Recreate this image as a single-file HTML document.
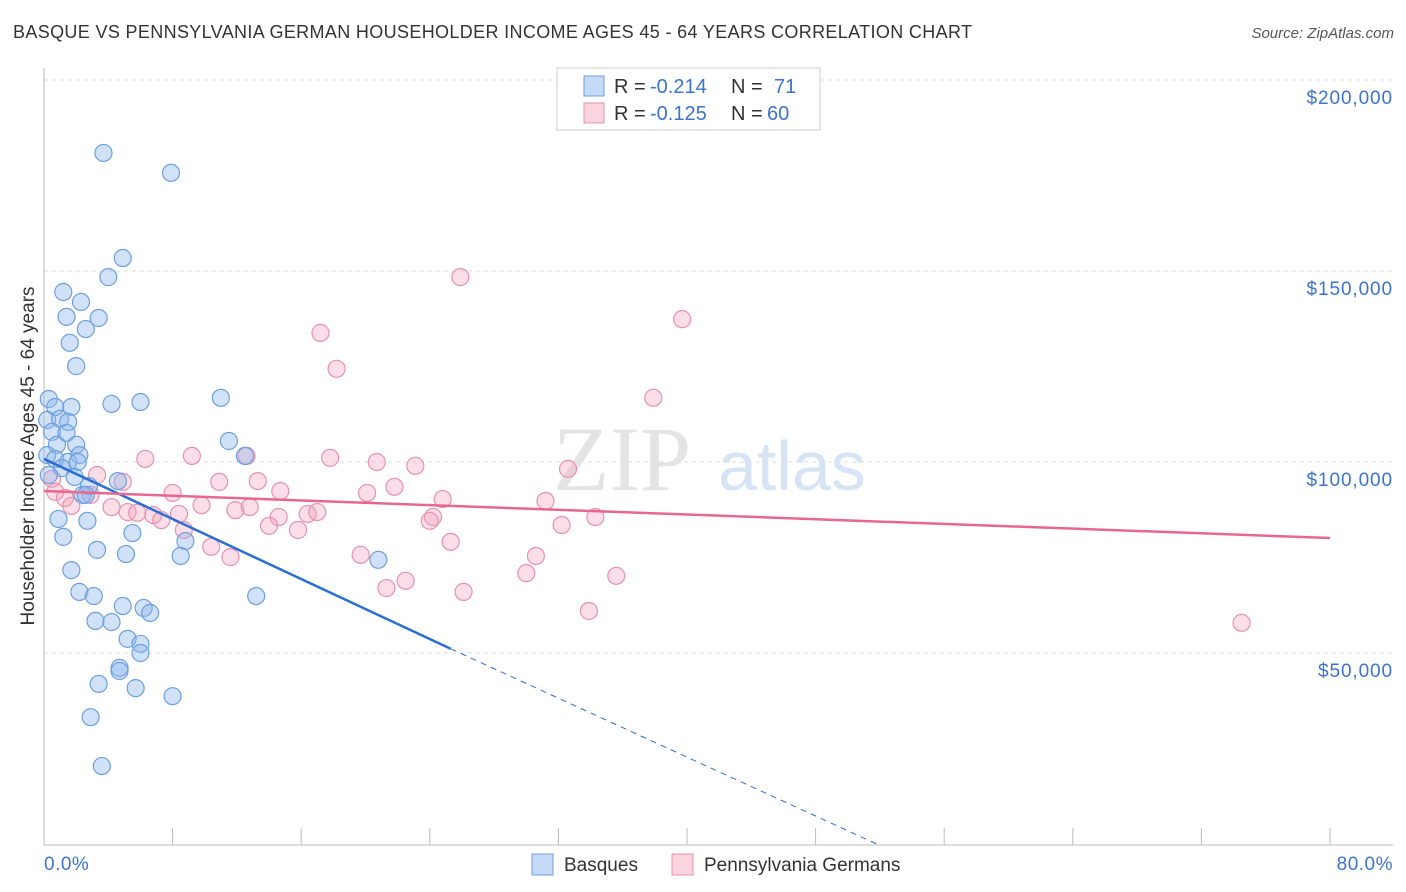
<!DOCTYPE html>
<html><head><meta charset="utf-8">
<style>
body{margin:0;background:#fff;font-family:"Liberation Sans",sans-serif;}
.t{position:absolute;white-space:nowrap}
</style></head>
<body>
<div style="position:relative;width:1406px;height:892px;overflow:hidden">
<div class="t" style="left:13px;top:22px;font-size:18px;color:#333;letter-spacing:0.35px">BASQUE VS PENNSYLVANIA GERMAN HOUSEHOLDER INCOME AGES 45 - 64 YEARS CORRELATION CHART</div>
<div class="t" style="right:12px;top:25px;font-size:15px;color:#555;font-style:italic">Source: ZipAtlas.com</div>
<svg id="chart" width="1406" height="892" style="position:absolute;left:0;top:0"></svg>
</div>
<script>
const blueX=[3.7,7.9,4.9,4.0,1.2,2.3,1.4,3.4,2.6,1.6,2.0,0.3,4.2,6.0,11.0,0.7,1.7,0.2,1.0,1.5,0.5,1.4,11.5,0.8,2.0,0.2,2.2,12.5,0.7,1.5,2.1,1.1,1.9,4.6,2.8,2.4,0.9,2.7,5.5,1.2,8.8,3.3,5.1,8.5,20.8,1.7,2.2,3.1,13.2,4.9,6.2,6.6,3.2,4.2,5.2,6.0,6.0,4.7,4.7,3.4,5.7,8.0,2.9,3.6,0.3,2.6];
const blueY=[180.9,175.7,153.4,148.4,144.5,141.9,138.0,137.7,134.8,131.2,125.1,116.5,115.2,115.7,116.8,114.4,114.4,111.0,111.3,110.5,107.9,107.6,105.5,104.5,104.5,101.8,101.8,101.6,100.8,100.0,100.0,98.4,96.1,95.0,93.7,91.4,85.1,84.6,81.4,80.4,79.3,77.0,75.9,75.4,74.4,71.7,66.0,64.9,64.9,62.3,61.8,60.5,58.4,58.1,53.7,52.4,50.0,46.1,45.3,41.9,40.8,38.7,33.2,20.4,96.6,91.4];
const pinkX=[25.9,39.7,17.2,18.2,37.9,6.3,9.2,12.6,17.8,20.7,23.1,32.6,3.3,0.5,4.9,10.9,13.3,21.8,0.7,8.0,14.7,20.1,1.3,2.9,24.8,31.2,1.7,4.2,9.8,5.2,5.8,11.9,12.8,6.8,8.4,7.3,14.6,16.4,17.0,24.2,24.0,34.3,8.7,14.0,15.8,32.2,10.4,25.3,11.6,19.7,30.6,30.0,35.6,22.5,21.3,26.1,33.9,74.5];
const pinkY=[148.4,137.4,133.8,124.4,116.8,100.8,101.6,101.6,101.1,100.0,99.0,98.2,96.6,95.6,94.8,94.8,95.0,93.5,92.2,91.9,92.4,91.9,90.6,91.4,90.3,89.8,88.5,88.2,88.7,86.9,86.7,87.4,88.2,86.1,86.4,84.8,85.6,86.4,86.9,85.6,84.6,85.6,82.2,83.3,82.2,83.5,77.8,79.1,75.1,75.7,75.4,70.9,70.2,68.9,67.0,66.0,61.0,57.9];
const yTicks=[50,100,150,200];
const yTickLabels=["$50,000","$100,000","$150,000","$200,000"];
const blueTrend=[100.8,51.1,0];
const blueTrendX=[0,25.3,51.8];
const pinkTrend=[92.4,80.1];
const pinkTrendX=[0,80];

const sx=v=>44+v/80*1286;
const sy=v=>844-v/50*191;
const svg=document.getElementById('chart');
const NS='http://www.w3.org/2000/svg';
function mk(tag,attrs){const e=document.createElementNS(NS,tag);for(const k in attrs)e.setAttribute(k,attrs[k]);svg.appendChild(e);return e;}
yTicks.forEach((t,i)=>{
  const g=mk('line',{x1:44,x2:1393,y1:sy(t),y2:sy(t),stroke:'#ddd','stroke-dasharray':'4,4'});
  
  
  const l=mk('text',{x:1393,y:sy(t)+24,'text-anchor':'end','font-size':19,'letter-spacing':'0.9',fill:'#3a74d0','font-family':'Liberation Sans'});
  l.textContent=yTickLabels[i];
  
  
});
let ax=mk('line',{x1:44,x2:44,y1:68,y2:845,stroke:'#bbb'});


let bx=mk('line',{x1:44,x2:1393,y1:845,y2:845,stroke:'#bbb'});


for(let i=0;i<=10;i++){const tk=mk('line',{x1:sx(i*8),x2:sx(i*8),y1:828,y2:845,stroke:'#bbb'});

}
let wm=mk('text',{x:553,y:490,'font-size':92,fill:'#e4e4e4','font-family':'Liberation Serif'});wm.textContent='ZIP';


let wm2=mk('text',{x:718,y:490,'font-size':70,fill:'#d6e4f5','font-family':'Liberation Sans'});wm2.textContent='atlas';


pinkX.forEach((x,i)=>{const c=mk('circle',{cx:sx(x),cy:sy(pinkY[i]),r:8.5,fill:'rgba(244,160,185,0.35)',stroke:'#e891ad','stroke-width':1.2});

});
blueX.forEach((x,i)=>{const c=mk('circle',{cx:sx(x),cy:sy(blueY[i]),r:8.5,fill:'rgba(140,182,238,0.4)',stroke:'#6d9fe0','stroke-width':1.2});

});
let b1=mk('line',{x1:sx(blueTrendX[0]),y1:sy(blueTrend[0]),x2:sx(blueTrendX[1]),y2:sy(blueTrend[1]),stroke:'#2a6fd6','stroke-width':2.5});


let b2=mk('line',{x1:sx(blueTrendX[1]),y1:sy(blueTrend[1]),x2:sx(blueTrendX[2]),y2:sy(blueTrend[2]),stroke:'#2a6fd6','stroke-width':1,'stroke-dasharray':'6,5'});


let p1=mk('line',{x1:sx(pinkTrendX[0]),y1:sy(pinkTrend[0]),x2:sx(pinkTrendX[1]),y2:sy(pinkTrend[1]),stroke:'#e8678f','stroke-width':2.5});


let xl=mk('text',{x:44,y:870,'font-size':19,'letter-spacing':'0.5',fill:'#3a74d0','font-family':'Liberation Sans'});xl.textContent='0.0%';


let xr=mk('text',{x:1393,y:870,'text-anchor':'end','font-size':19,'letter-spacing':'0.5',fill:'#3a74d0','font-family':'Liberation Sans'});xr.textContent='80.0%';


let yt=mk('text',{x:0,y:0,'font-size':19,fill:'#333','font-family':'Liberation Sans','text-anchor':'middle',transform:'translate(34,456) rotate(-90)'});yt.textContent='Householder Income Ages 45 - 64 years';


let lb=mk('rect',{x:557,y:68,width:263,height:62,fill:'#fff',stroke:'#ccc'});


[[86,'rgba(140,182,238,0.5)','#6d9fe0','-0.214','71',774],[113,'rgba(244,160,185,0.45)','#e891ad','-0.125','60',767]].forEach(r=>{
  const s=mk('rect',{x:584,y:r[0]-10,width:20,height:20,fill:r[1],stroke:r[2]});
  
  
  const t=mk('text',{x:614,y:r[0]+7,'font-size':20,fill:'#333','font-family':'Liberation Sans'});
  t.textContent='R = ';
  
  
  const v=mk('text',{x:650,y:r[0]+7,'font-size':20,fill:'#3a74d0','font-family':'Liberation Sans'});
  v.textContent=r[3];
  
  
  const n=mk('text',{x:731,y:r[0]+7,'font-size':20,fill:'#333','font-family':'Liberation Sans'});
  n.textContent='N =';
  
  
  const nv=mk('text',{x:r[5],y:r[0]+7,'font-size':20,fill:'#3a74d0','font-family':'Liberation Sans'});
  nv.textContent=r[4];
  
  
});
[[532,'rgba(140,182,238,0.5)','#6d9fe0','Basques'],[672,'rgba(244,160,185,0.45)','#e891ad','Pennsylvania Germans']].forEach(r=>{
  const s=mk('rect',{x:r[0],y:854,width:21,height:21,fill:r[1],stroke:r[2]});
  
  
  const t=mk('text',{x:r[0]+32,y:871,'font-size':19,fill:'#333','font-family':'Liberation Sans'});
  t.textContent=r[3];
  
  
});
</script>
</body></html>
